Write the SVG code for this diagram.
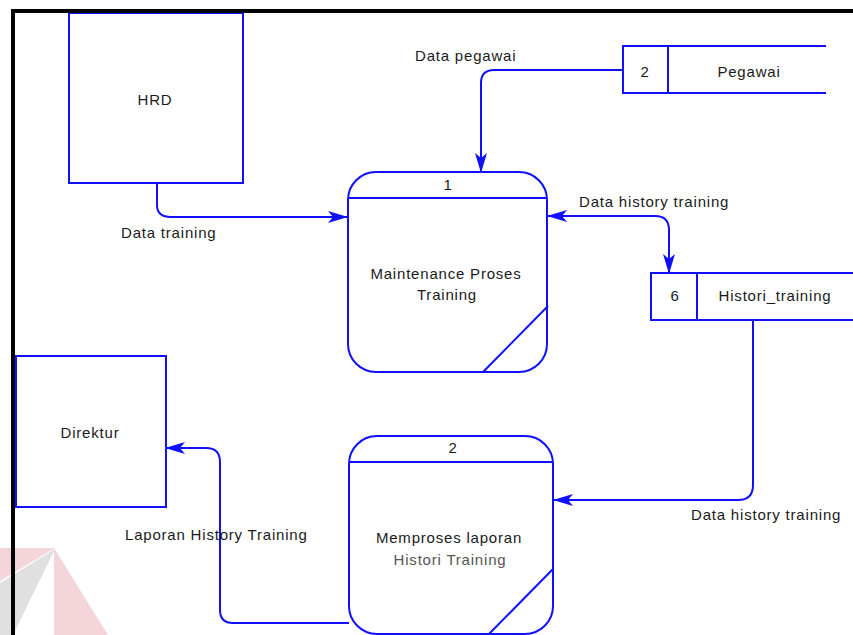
<svg xmlns="http://www.w3.org/2000/svg" width="853" height="635" viewBox="0 0 853 635">
<style>
.b{fill:none;stroke:#1010ff;stroke-width:2}
.t{font-family:"Liberation Sans",Arial,sans-serif;font-size:15px;letter-spacing:0.8px;fill:#1a1a1a}
.c{text-anchor:middle}
.g{fill:#555}
</style>
<defs>
<marker id="ah" viewBox="0 0 20 12" refX="19" refY="6" markerWidth="20" markerHeight="12" markerUnits="userSpaceOnUse" orient="auto-start-reverse">
<path d="M0,0 L20,6 L0,12 L5,6 z" fill="#1010ff"/>
</marker>
</defs>
<rect width="853" height="635" fill="#fff"/>
<g id="watermark">
<polygon points="0,548 55,548 0,581" fill="#f3d5da"/>
<polygon points="55,549 0,583 0,635 13,635" fill="#e0e0e0"/>
<polygon points="54,548 108,635 54,635" fill="#f3d5da"/>
</g>
<g id="hrd">
<rect class="b" x="69" y="13" width="174" height="170"/>
<text class="t c" x="155" y="105">HRD</text>
</g>
<g id="direktur">
<rect class="b" x="16" y="356" width="150" height="151"/>
<text class="t c" x="90" y="438">Direktur</text>
</g>
<g id="process1">
<rect class="b" x="348" y="172" width="199" height="200" rx="28"/>
<line class="b" x1="348" y1="198" x2="547" y2="198"/>
<line class="b" x1="548" y1="306" x2="483" y2="372"/>
<text class="t c" x="448" y="190">1</text>
<text class="t c" x="446" y="279">Maintenance Proses</text>
<text class="t c" x="447" y="300">Training</text>
</g>
<g id="process2">
<rect class="b" x="349" y="436" width="204" height="198" rx="28"/>
<line class="b" x1="349" y1="462" x2="553" y2="462"/>
<line class="b" x1="553" y1="569" x2="489" y2="634"/>
<text class="t c" x="453" y="453">2</text>
<text class="t c" x="449" y="543">Memproses laporan</text>
<text class="t c g" x="450" y="565">Histori Training</text>
</g>
<g id="store2">
<path class="b" d="M826,46 H623 V93 H826 M668,46 V93"/>
<text class="t c" x="645" y="77">2</text>
<text class="t c" x="749" y="77">Pegawai</text>
</g>
<g id="store6">
<path class="b" d="M853,273 H651 V320 H853 M697,273 V320"/>
<text class="t c" x="675" y="301">6</text>
<text class="t c" x="775" y="301">Histori_training</text>
</g>
<g id="connectors">
<path class="b" d="M157,183 V205 Q157,217 171,217 H347" marker-end="url(#ah)"/>
<path class="b" d="M623,70 H494 Q481,70 481,83 V172" marker-end="url(#ah)"/>
<path class="b" d="M548,216 H655 Q669,216 669,230 V273" marker-start="url(#ah)" marker-end="url(#ah)"/>
<path class="b" d="M753,320 V485 Q753,500 738,500 H554" marker-end="url(#ah)"/>
<path class="b" d="M349,623 H233 Q220,623 220,610 V462 Q220,448 206,448 H166" marker-end="url(#ah)"/>
<text class="t" x="121" y="238">Data training</text>
<text class="t" x="415" y="61">Data pegawai</text>
<text class="t" x="579" y="207">Data history training</text>
<text class="t" x="691" y="520">Data history training</text>
<text class="t" x="125" y="540">Laporan History Training</text>
</g>
<g id="frame">
<path d="M13,635 V11 H853" fill="none" stroke="#000" stroke-width="4"/>
</g>
</svg>
